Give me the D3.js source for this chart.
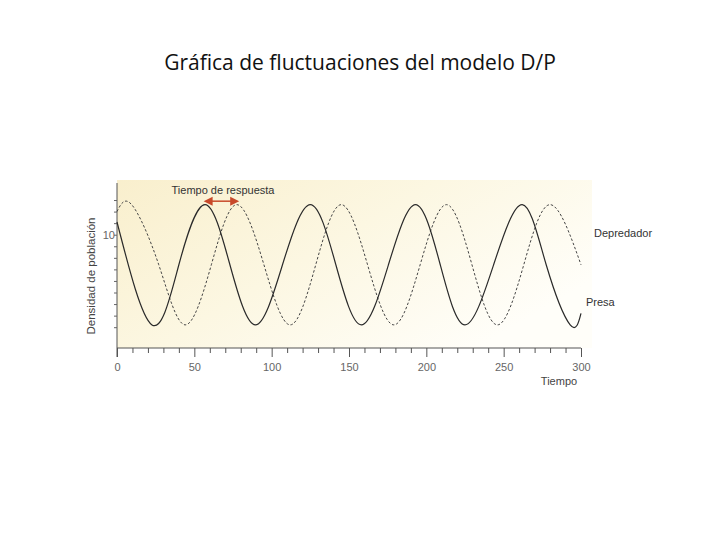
<html>
<head>
<meta charset="utf-8">
<script src="https://d3js.org/d3.v7.min.js"></script>
<style>
body { margin: 0; background: #ffffff; }
text { font-family: "Liberation Sans", Arial, Helvetica, sans-serif; }
</style>
</head>
<body>
<svg id="main_vis" width="720" height="540"></svg>
<script>

// prey (solid) : time / density
var preyTime  = [0, 22.6, 40, 57, 73, 89.5, 107, 125, 141.5, 158, 175.5, 193, 209, 225, 243.5, 262, 277.5, 293, 300];
var preyValue = [11.1, 2.2, 7.4, 12.6, 7.4, 2.2, 7.4, 12.6, 7.4, 2.2, 7.4, 12.6, 7.4, 2.2, 7.4, 12.6, 7.4, 2.2, 3.2];

// predator (dashed)
var predTime  = [0, 9.5, 27, 44, 61, 77.5, 95, 112, 128.5, 145, 162, 179, 196, 213, 229.5, 246, 263, 280, 300];
var predValue = [12.0, 12.6, 7.4, 2.2, 7.4, 12.6, 7.4, 2.2, 7.4, 12.6, 7.4, 2.2, 7.4, 12.6, 7.4, 2.2, 7.4, 12.6, 7.4];

var xTicks = [0, 10, 20, 30, 40, 50, 60, 70, 80, 90, 100, 110, 120, 130, 140, 150, 160, 170, 180, 190, 200, 210, 220, 230, 240, 250, 260, 270, 280, 290, 300];
var xLabels = [0, 50, 100, 150, 200, 250, 300];
var yTicks = [2, 3, 4, 5, 6, 7, 8, 9, 10, 11, 12, 13];
var yLabels = [10];

// response time arrow (from prey peak to predator peak)
var arrowTime = [56, 79];
var arrowValue = 12.9;

var svg = d3.select("#main_vis");

var x = d3.scaleLinear().domain([0, 300]).range([117, 581]);
var y = d3.scaleLinear().domain([0.2, 14.3]).range([348, 185]);

// title
svg.append("text")
  .attr("x", 360).attr("y", 70)
  .attr("text-anchor", "middle")
  .style("font-family", "'Open Sans', sans-serif")
  .style("font-size", "21px")
  .style("fill", "#111")
  .text("Gráfica de fluctuaciones del modelo D/P");

// scanned paper background
var defs = svg.append("defs");
var grad = defs.append("linearGradient").attr("id", "paper")
  .attr("x1", "0").attr("y1", "0").attr("x2", "1").attr("y2", "0.6");
grad.append("stop").attr("offset", "0%").attr("stop-color", "#f9efcd");
grad.append("stop").attr("offset", "50%").attr("stop-color", "#fcf7e2");
grad.append("stop").attr("offset", "100%").attr("stop-color", "#fffef9");

svg.append("rect")
  .attr("x", 117).attr("y", 180)
  .attr("width", 475).attr("height", 168)
  .attr("fill", "url(#paper)");

// axes
var xAxis = svg.append("g")
  .attr("transform", "translate(0,348)")
  .call(d3.axisBottom(x).tickValues(xTicks)
    .tickSize(5)
    .tickFormat(function(d) { return xLabels.indexOf(d) >= 0 ? d : ""; }));
xAxis.select(".domain").attr("stroke", "#555").attr("d", "M117,0H581");
xAxis.selectAll(".tick line")
  .attr("stroke", "#555")
  .attr("y2", function(d) { return d % 50 == 0 ? 9 : 5; });
xAxis.selectAll(".tick text")
  .attr("y", 15)
  .style("font-size", "11px")
  .style("fill", "#666")
  .style("font-family", "'Liberation Sans', Arial, sans-serif");

var yAxis = svg.append("g")
  .attr("transform", "translate(117,0)")
  .call(d3.axisLeft(y).tickValues(yTicks)
    .tickSize(3)
    .tickFormat(function(d) { return yLabels.indexOf(d) >= 0 ? d : ""; }));
yAxis.select(".domain").attr("stroke", "#555").attr("d", "M0,183V357");
yAxis.selectAll(".tick line").attr("stroke", "#666");
yAxis.selectAll(".tick text")
  .attr("x", -2)
  .style("font-size", "11px")
  .style("fill", "#666")
  .style("font-family", "'Liberation Sans', Arial, sans-serif");

var line = d3.line()
  .x(function(d) { return x(d[0]); })
  .y(function(d) { return y(d[1]); })
  .curve(d3.curveNatural);

// predator line
svg.append("path")
  .datum(d3.zip(predTime, predValue))
  .attr("fill", "none")
  .attr("stroke", "#444")
  .attr("stroke-width", 1)
  .attr("stroke-dasharray", "2.5,2")
  .attr("d", line);

// prey line
svg.append("path")
  .datum(d3.zip(preyTime, preyValue))
  .attr("fill", "none")
  .attr("stroke", "#2a2a2a")
  .attr("stroke-width", 1.2)
  .attr("d", line);

// arrow
var ay = y(arrowValue);
var ax0 = x(arrowTime[0]), ax1 = x(arrowTime[1]);
svg.append("line")
  .attr("x1", ax0 + 6).attr("x2", ax1 - 6)
  .attr("y1", ay).attr("y2", ay)
  .attr("stroke", "#c8492a").attr("stroke-width", 1.5);
svg.append("path")
  .attr("d", "M" + ax0 + "," + ay + "l9,-4.5v9z")
  .attr("fill", "#c8492a");
svg.append("path")
  .attr("d", "M" + ax1 + "," + ay + "l-9,-4.5v9z")
  .attr("fill", "#c8492a");

// labels
svg.append("text")
  .attr("x", 223).attr("y", 194)
  .attr("text-anchor", "middle")
  .style("font-size", "11px").style("fill", "#333")
  .text("Tiempo de respuesta");

svg.append("text")
  .attr("x", 594).attr("y", 237)
  .style("font-size", "11px").style("fill", "#333")
  .text("Depredador");

svg.append("text")
  .attr("x", 586).attr("y", 306)
  .style("font-size", "11px").style("fill", "#333")
  .text("Presa");

svg.append("text")
  .attr("x", 559).attr("y", 385)
  .attr("text-anchor", "middle")
  .style("font-size", "11px").style("fill", "#444")
  .text("Tiempo");

svg.append("text")
  .attr("transform", "translate(95,276) rotate(-90)")
  .attr("text-anchor", "middle")
  .style("font-size", "11.5px").style("fill", "#444")
  .text("Densidad de población");

</script>
</body>
</html>
